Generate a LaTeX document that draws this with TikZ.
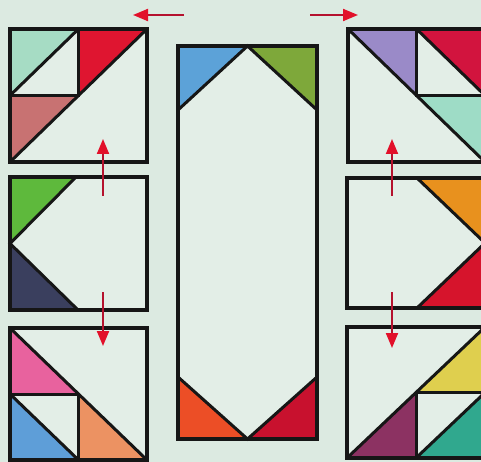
\documentclass[tikz,border=0pt]{standalone}
\usetikzlibrary{arrows.meta}
\definecolor{bg}{HTML}{DCEAE1}
\definecolor{inner}{HTML}{E3EEE7}
\definecolor{ink}{HTML}{161616}
\definecolor{cmint}{HTML}{A6DCC4}
\definecolor{cred}{HTML}{DF1530}
\definecolor{crose}{HTML}{C87272}
\definecolor{cpurple}{HTML}{9A8AC8}
\definecolor{ccrimson}{HTML}{D2143E}
\definecolor{cmint2}{HTML}{9EDCC6}
\definecolor{cgreen}{HTML}{5EB93C}
\definecolor{cnavy}{HTML}{3A3F5E}
\definecolor{corange}{HTML}{E8911E}
\definecolor{cred2}{HTML}{D6142C}
\definecolor{cpink}{HTML}{E8629E}
\definecolor{cblue}{HTML}{5E9ED8}
\definecolor{corange2}{HTML}{EC9262}
\definecolor{cyellow}{HTML}{DFCF4E}
\definecolor{cplum}{HTML}{8C3262}
\definecolor{cteal}{HTML}{30A88E}
\definecolor{cblue2}{HTML}{5CA2D8}
\definecolor{cgreen2}{HTML}{7EA83A}
\definecolor{cored}{HTML}{EC4E26}
\definecolor{cdred}{HTML}{C8112E}
\definecolor{ashaft}{HTML}{B5122E}
\definecolor{atip}{HTML}{E2102A}
\tikzset{
  frame/.style={draw=ink,line width=3.4pt,line join=miter},
  seam/.style={draw=ink,line width=3pt},
  movearrow/.style={draw=ashaft,line width=2pt,
    -{Triangle[length=15pt,width=12pt,color=atip]}}
}
\begin{document}
\begin{tikzpicture}[x=1pt,y=-1pt]
\useasboundingbox (0,0) rectangle (481,462);
\clip (0,0) rectangle (481,462);
\fill[bg] (0,0) rectangle (481,462);

% ---------- top-left block ----------
\fill[inner] (10,29) rectangle (147,162);
\fill[cmint] (10,29) -- (78.5,29) -- (10,95.5) -- cycle;
\fill[cred] (78.5,29) -- (147,29) -- (78.5,95.5) -- cycle;
\fill[crose] (10,95.5) -- (78.5,95.5) -- (10,162) -- cycle;
\draw[seam] (10,162) -- (147,29);
\draw[seam] (78.5,29) -- (78.5,95.5) -- (10,95.5);
\draw[seam] (10,95.5) -- (78.5,29);
\draw[frame] (10,29) rectangle (147,162);

% ---------- top-right block ----------
\fill[inner] (348,29) rectangle (485,162);
\fill[cpurple] (348,29) -- (416.5,29) -- (416.5,95.5) -- cycle;
\fill[ccrimson] (416.5,29) -- (485,29) -- (485,95.5) -- cycle;
\fill[cmint2] (416.5,95.5) -- (485,95.5) -- (485,162) -- cycle;
\draw[seam] (348,29) -- (485,162);
\draw[seam] (416.5,29) -- (416.5,95.5) -- (485,95.5);
\draw[seam] (416.5,29) -- (485,95.5);
\draw[frame] (348,29) rectangle (485,162);

% ---------- middle-left block ----------
\fill[inner] (10,177) rectangle (147,310);
\fill[cgreen] (10,177) -- (76,177) -- (10,243.5) -- cycle;
\fill[cnavy] (10,243.5) -- (10,310) -- (78,310) -- cycle;
\draw[seam] (76,177) -- (10,243.5) -- (78,310);
\draw[frame] (10,177) rectangle (147,310);

% ---------- middle-right block ----------
\fill[inner] (347,178) rectangle (485,308);
\fill[corange] (417,178) -- (485,178) -- (485,243) -- cycle;
\fill[cred2] (485,243) -- (485,308) -- (417,308) -- cycle;
\draw[seam] (417,178) -- (485,243) -- (417,308);
\draw[frame] (347,178) rectangle (485,308);

% ---------- bottom-left block ----------
\fill[inner] (10,328) rectangle (147,460);
\fill[cpink] (10,328) -- (10,394) -- (78.5,394) -- cycle;
\fill[cblue] (10,394) -- (10,460) -- (78.5,460) -- cycle;
\fill[corange2] (78.5,394) -- (78.5,460) -- (147,460) -- cycle;
\draw[seam] (10,328) -- (147,460);
\draw[seam] (10,394) -- (78.5,394) -- (78.5,460);
\draw[seam] (10,394) -- (78.5,460);
\draw[frame] (10,328) rectangle (147,460);

% ---------- bottom-right block ----------
\fill[inner] (347,327) rectangle (485,458);
\fill[cyellow] (416,392.5) -- (485,392.5) -- (485,327) -- cycle;
\fill[cplum] (347,458) -- (416,392.5) -- (416,458) -- cycle;
\fill[cteal] (416,458) -- (485,458) -- (485,392.5) -- cycle;
\draw[seam] (347,458) -- (485,327);
\draw[seam] (416,458) -- (416,392.5) -- (485,392.5);
\draw[seam] (416,458) -- (485,392.5);
\draw[frame] (347,327) rectangle (485,458);

% ---------- centre column ----------
\fill[inner] (178,46) rectangle (317,439);
\fill[cblue2] (178,46) -- (247.5,46) -- (178,110) -- cycle;
\fill[cgreen2] (247.5,46) -- (317,46) -- (317,110) -- cycle;
\fill[cored] (178,377) -- (178,439) -- (247.5,439) -- cycle;
\fill[cdred] (317,377) -- (317,439) -- (247.5,439) -- cycle;
\draw[seam] (178,110) -- (247.5,46) -- (317,110);
\draw[seam] (178,377) -- (247.5,439) -- (317,377);
\draw[frame] (178,46) rectangle (317,439);

% ---------- arrows ----------
\coordinate (aLs) at (184,15); \coordinate (aLe) at (133,15);
\coordinate (aRs) at (310,15); \coordinate (aRe) at (358,15);
\coordinate (uLs) at (103,196); \coordinate (uLe) at (103,139);
\coordinate (uRs) at (392,196); \coordinate (uRe) at (392,139);
\coordinate (dLs) at (103,292); \coordinate (dLe) at (103,346);
\coordinate (dRs) at (392,292); \coordinate (dRe) at (392,348);
\draw[movearrow] (aLs) -- (aLe);
\draw[movearrow] (aRs) -- (aRe);
\draw[movearrow] (uLs) -- (uLe);
\draw[movearrow] (uRs) -- (uRe);
\draw[movearrow] (dLs) -- (dLe);
\draw[movearrow] (dRs) -- (dRe);
\end{tikzpicture}
\end{document}
